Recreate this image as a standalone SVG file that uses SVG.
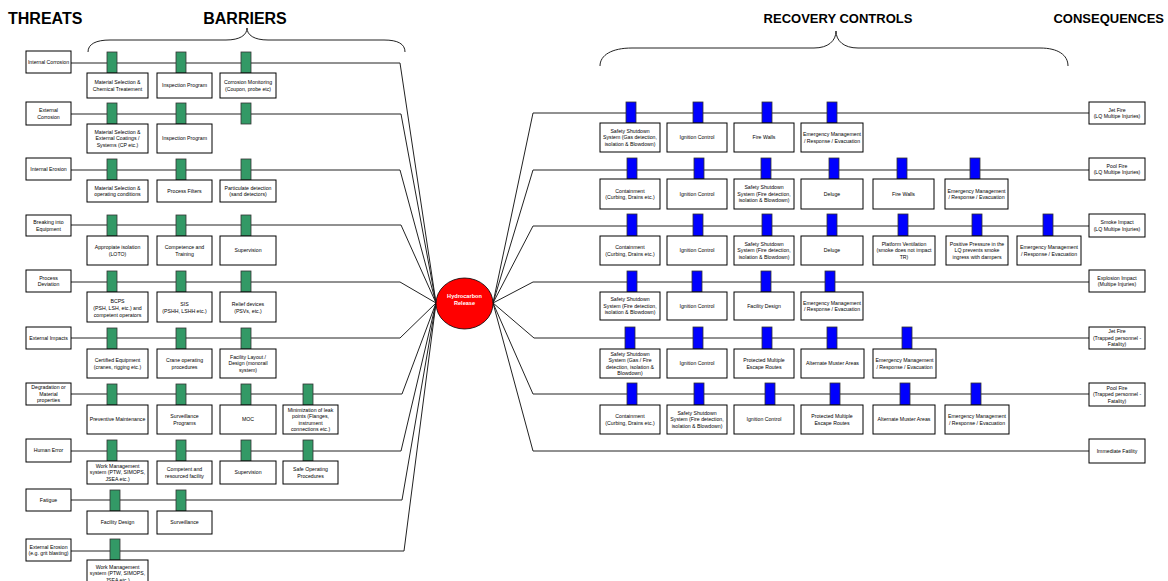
<svg xmlns="http://www.w3.org/2000/svg" width="1168" height="581" viewBox="0 0 1168 581">
<style>
.bx{fill:#fff;stroke:#000;stroke-width:1}
.g{fill:#339966;stroke:#333;stroke-width:0.8}
.b{fill:#0000ff;stroke:#333;stroke-width:0.8}
.ln{fill:none;stroke:#222;stroke-width:1}
.br{fill:none;stroke:#222;stroke-width:1}
text{font-family:"Liberation Sans",Arial,sans-serif}
.t{font-size:5.2px;text-anchor:middle;fill:#000}
.h{font-size:16px;font-weight:bold;fill:#000}
.h2{font-size:13px;font-weight:bold;fill:#000}
.w{font-size:5.6px;font-weight:bold;text-anchor:middle;fill:#fff}
</style>
<rect width="1168" height="581" fill="#fff"/>
<g id="headers">
<text class="h" x="8" y="24">THREATS</text>
<text class="h" x="245" y="24" text-anchor="middle">BARRIERS</text>
<text class="h2" x="838" y="23" text-anchor="middle">RECOVERY CONTROLS</text>
<text class="h2" x="1164" y="23" text-anchor="end">CONSEQUENCES</text>
<path class="br" d="M88,52 C88,44 96,40 110,40 L226,40 C240,40 247,35 247,28 C247,35 254,40 268,40 L384,40 C398,40 405,44 405,52"/>
<path class="br" d="M600,66 C600,55 612,48 632,48 L814,48 C828,48 836,41 836,31 C836,41 844,48 858,48 L1040,48 C1058,48 1068,55 1068,66"/>
</g>
<g id="connectors">
<polyline class="ln" points="71,63 400,63 436,303"/>
<polyline class="ln" points="71,114 401,114 436,303"/>
<polyline class="ln" points="71,170 400,170 436,303"/>
<polyline class="ln" points="71,225 401,225 436,303"/>
<polyline class="ln" points="71,282 400,282 436,303"/>
<polyline class="ln" points="71,338 400,338 436,303"/>
<polyline class="ln" points="71,394 402,394 436,303"/>
<polyline class="ln" points="71,451 401,451 436,303"/>
<polyline class="ln" points="71,500 402,500 436,303"/>
<polyline class="ln" points="71,551 404,551 436,303"/>
<polyline class="ln" points="493,303 533,113 1089,113"/>
<polyline class="ln" points="493,303 533,170 1089,170"/>
<polyline class="ln" points="493,303 533,226 1089,226"/>
<polyline class="ln" points="493,303 533,282 1089,282"/>
<polyline class="ln" points="493,303 534,338 1089,338"/>
<polyline class="ln" points="493,303 533,394 1089,394"/>
<polyline class="ln" points="493,303 533,451 1089,451"/>
</g>
<g id="top-event">
<ellipse cx="464.5" cy="303.5" rx="28.5" ry="25.5" fill="#ff0000" stroke="#000" stroke-width="0.8"/>
<text class="w" x="464.5" y="298">Hydrocarbon</text>
<text class="w" x="464.5" y="305">Release</text>
</g>
<!-- Threat 1 -->
<g id="threat-1"><rect class="bx" x="26" y="51" width="45" height="22"/><text class="t" x="48.5" y="63.8">Internal Corrosion</text></g>
<g id="barrier-1-1"><rect class="g" x="107" y="52" width="10" height="21"/><rect class="bx" x="87" y="73" width="61" height="25"/><text class="t" x="117.5" y="84.05">Material Selection &amp;</text><text class="t" x="117.5" y="90.55">Chemical Treatement</text></g>
<g id="barrier-1-2"><rect class="g" x="176" y="52" width="10" height="21"/><rect class="bx" x="157" y="73" width="55" height="25"/><text class="t" x="184.5" y="87.3">Inspection Program</text></g>
<g id="barrier-1-3"><rect class="g" x="241" y="52" width="10" height="21"/><rect class="bx" x="220" y="73" width="56" height="25"/><text class="t" x="248" y="84.05">Corrosion Monitoring</text><text class="t" x="248" y="90.55">(Coupon, probe etc)</text></g>
<!-- Threat 2 -->
<g id="threat-2"><rect class="bx" x="26" y="102" width="45" height="23"/><text class="t" x="48.5" y="112.05">External</text><text class="t" x="48.5" y="118.55">Corrosion</text></g>
<g id="barrier-2-1"><rect class="g" x="107" y="103" width="10" height="21"/><rect class="bx" x="87" y="124" width="61" height="29"/><text class="t" x="117.5" y="133.8">Material Selection &amp;</text><text class="t" x="117.5" y="140.3">External Coatings /</text><text class="t" x="117.5" y="146.8">Systems (CP etc.)</text></g>
<g id="barrier-2-2"><rect class="g" x="176" y="103" width="10" height="21"/><rect class="bx" x="157" y="124" width="55" height="29"/><text class="t" x="184.5" y="140.3">Inspection Program</text></g>
<g id="barrier-2-3"><rect class="g" x="241" y="103" width="10" height="21"/></g>
<!-- Threat 3 -->
<g id="threat-3"><rect class="bx" x="26" y="158" width="45" height="22"/><text class="t" x="48.5" y="170.8">Internal Erosion</text></g>
<g id="barrier-3-1"><rect class="g" x="107" y="159" width="10" height="21"/><rect class="bx" x="87" y="180" width="61" height="22"/><text class="t" x="117.5" y="189.55">Material Selection &amp;</text><text class="t" x="117.5" y="196.05">operating conditions</text></g>
<g id="barrier-3-2"><rect class="g" x="176" y="159" width="10" height="21"/><rect class="bx" x="157" y="180" width="55" height="22"/><text class="t" x="184.5" y="192.8">Process Filters</text></g>
<g id="barrier-3-3"><rect class="g" x="241" y="159" width="10" height="21"/><rect class="bx" x="220" y="180" width="56" height="22"/><text class="t" x="248" y="189.55">Particulate detection</text><text class="t" x="248" y="196.05">(sand detectors)</text></g>
<!-- Threat 4 -->
<g id="threat-4"><rect class="bx" x="26" y="215" width="45" height="21"/><text class="t" x="48.5" y="224.05">Breaking into</text><text class="t" x="48.5" y="230.55">Equipment</text></g>
<g id="barrier-4-1"><rect class="g" x="107" y="215" width="10" height="21"/><rect class="bx" x="87" y="236" width="61" height="29"/><text class="t" x="117.5" y="249.05">Appropiate isolation</text><text class="t" x="117.5" y="255.55">(LOTO)</text></g>
<g id="barrier-4-2"><rect class="g" x="176" y="215" width="10" height="21"/><rect class="bx" x="157" y="236" width="55" height="29"/><text class="t" x="184.5" y="249.05">Competence and</text><text class="t" x="184.5" y="255.55">Training</text></g>
<g id="barrier-4-3"><rect class="g" x="241" y="215" width="10" height="21"/><rect class="bx" x="220" y="236" width="56" height="29"/><text class="t" x="248" y="252.3">Supervision</text></g>
<!-- Threat 5 -->
<g id="threat-5"><rect class="bx" x="26" y="270" width="45" height="22"/><text class="t" x="48.5" y="279.55">Process</text><text class="t" x="48.5" y="286.05">Deviation</text></g>
<g id="barrier-5-1"><rect class="g" x="107" y="271" width="10" height="21"/><rect class="bx" x="87" y="292" width="61" height="30"/><text class="t" x="117.5" y="302.5">BCPS</text><text class="t" x="117.5" y="309.5">(PSH, LSH, etc.) and</text><text class="t" x="117.5" y="316.5">competent operators</text></g>
<g id="barrier-5-2"><rect class="g" x="176" y="271" width="10" height="21"/><rect class="bx" x="157" y="292" width="55" height="30"/><text class="t" x="184.5" y="305.8">SIS</text><text class="t" x="184.5" y="312.5">(PSHH, LSHH etc.)</text></g>
<g id="barrier-5-3"><rect class="g" x="241" y="271" width="10" height="21"/><rect class="bx" x="220" y="292" width="56" height="30"/><text class="t" x="248" y="305.8">Relief devices</text><text class="t" x="248" y="312.5">(PSVs, etc.)</text></g>
<!-- Threat 6 -->
<g id="threat-6"><rect class="bx" x="26" y="327" width="45" height="22"/><text class="t" x="48.5" y="339.8">External Impacts</text></g>
<g id="barrier-6-1"><rect class="g" x="107" y="328" width="10" height="21"/><rect class="bx" x="87" y="349" width="61" height="29"/><text class="t" x="117.5" y="362.05">Certified Equipment</text><text class="t" x="117.5" y="368.55">(cranes, rigging etc.)</text></g>
<g id="barrier-6-2"><rect class="g" x="176" y="328" width="10" height="21"/><rect class="bx" x="157" y="349" width="55" height="29"/><text class="t" x="184.5" y="362.05">Crane operating</text><text class="t" x="184.5" y="368.55">procedures</text></g>
<g id="barrier-6-3"><rect class="g" x="241" y="328" width="10" height="21"/><rect class="bx" x="220" y="349" width="56" height="29"/><text class="t" x="248" y="358.8">Facility Layout /</text><text class="t" x="248" y="365.3">Design (monorail</text><text class="t" x="248" y="371.8">system)</text></g>
<!-- Threat 7 -->
<g id="threat-7"><rect class="bx" x="26" y="383" width="45" height="22"/><text class="t" x="48.5" y="389.3">Degradation or</text><text class="t" x="48.5" y="395.8">Material</text><text class="t" x="48.5" y="402.3">properties</text></g>
<g id="barrier-7-1"><rect class="g" x="107" y="384" width="10" height="21"/><rect class="bx" x="87" y="405" width="61" height="29"/><text class="t" x="117.5" y="421.3">Preventive Maintenance</text></g>
<g id="barrier-7-2"><rect class="g" x="176" y="384" width="10" height="21"/><rect class="bx" x="157" y="405" width="55" height="29"/><text class="t" x="184.5" y="418.05">Surveillance</text><text class="t" x="184.5" y="424.55">Programs</text></g>
<g id="barrier-7-3"><rect class="g" x="241" y="384" width="10" height="21"/><rect class="bx" x="220" y="405" width="56" height="29"/><text class="t" x="248" y="421.3">MOC</text></g>
<g id="barrier-7-4"><rect class="g" x="303" y="384" width="10" height="21"/><rect class="bx" x="283" y="405" width="55" height="29"/><text class="t" x="310.5" y="411.55">Minimization of leak</text><text class="t" x="310.5" y="418.05">points (Flanges,</text><text class="t" x="310.5" y="424.55">instrument</text><text class="t" x="310.5" y="431.05">connections etc.)</text></g>
<!-- Threat 8 -->
<g id="threat-8"><rect class="bx" x="26" y="439" width="45" height="23"/><text class="t" x="48.5" y="452.3">Human Error</text></g>
<g id="barrier-8-1"><rect class="g" x="107" y="440" width="10" height="21"/><rect class="bx" x="87" y="461" width="61" height="23"/><text class="t" x="117.5" y="467.8">Work Management</text><text class="t" x="117.5" y="474.3">system (PTW, SIMOPS,</text><text class="t" x="117.5" y="480.8">JSEA etc.)</text></g>
<g id="barrier-8-2"><rect class="g" x="176" y="440" width="10" height="21"/><rect class="bx" x="157" y="461" width="55" height="23"/><text class="t" x="184.5" y="471.05">Competent and</text><text class="t" x="184.5" y="477.55">resourced facility</text></g>
<g id="barrier-8-3"><rect class="g" x="241" y="440" width="10" height="21"/><rect class="bx" x="220" y="461" width="56" height="23"/><text class="t" x="248" y="474.3">Supervision</text></g>
<g id="barrier-8-4"><rect class="g" x="303" y="440" width="10" height="21"/><rect class="bx" x="283" y="461" width="55" height="23"/><text class="t" x="310.5" y="471.05">Safe Operating</text><text class="t" x="310.5" y="477.55">Procedures</text></g>
<!-- Threat 9 -->
<g id="threat-9"><rect class="bx" x="26" y="489" width="45" height="22"/><text class="t" x="48.5" y="501.8">Fatigue</text></g>
<g id="barrier-9-1"><rect class="g" x="110" y="490" width="10" height="21"/><rect class="bx" x="87" y="511" width="61" height="23"/><text class="t" x="117.5" y="524.3">Facility Design</text></g>
<g id="barrier-9-2"><rect class="g" x="176" y="490" width="10" height="21"/><rect class="bx" x="157" y="511" width="55" height="23"/><text class="t" x="184.5" y="524.3">Surveillance</text></g>
<!-- Threat 10 -->
<g id="threat-10"><rect class="bx" x="26" y="539" width="45" height="22"/><text class="t" x="48.5" y="548.55">External Erosion</text><text class="t" x="48.5" y="555.05">(e.g. grit blasting)</text></g>
<g id="barrier-10-1"><rect class="g" x="110" y="539" width="10" height="21"/><rect class="bx" x="87" y="560" width="61" height="26"/><text class="t" x="117.5" y="568.5">Work Management</text><text class="t" x="117.5" y="575">system (PTW, SIMOPS,</text><text class="t" x="117.5" y="581.5">JSEA etc.)</text></g>
<!-- Consequence 1 -->
<g id="consequence-1"><rect class="bx" x="1089" y="102" width="56" height="22"/><text class="t" x="1117" y="111.55">Jet Fire</text><text class="t" x="1117" y="118.05">(LQ Multipe Injuries)</text></g>
<g id="recovery-1-1"><rect class="b" x="626" y="102" width="10" height="21"/><rect class="bx" x="600" y="123" width="60" height="29"/><text class="t" x="630" y="132.8">Safety Shutdown</text><text class="t" x="630" y="139.3">System (Gas detection,</text><text class="t" x="630" y="145.8">isolation &amp; Blowdown)</text></g>
<g id="recovery-1-2"><rect class="b" x="693" y="102" width="10" height="21"/><rect class="bx" x="667" y="123" width="60" height="29"/><text class="t" x="697" y="139.3">Ignition Control</text></g>
<g id="recovery-1-3"><rect class="b" x="762" y="102" width="10" height="21"/><rect class="bx" x="734" y="123" width="60" height="29"/><text class="t" x="764" y="139.3">Fire Walls</text></g>
<g id="recovery-1-4"><rect class="b" x="827" y="102" width="10" height="21"/><rect class="bx" x="801" y="123" width="62" height="29"/><text class="t" x="832" y="136.05">Emergency Management</text><text class="t" x="832" y="142.55">/ Response / Evacuation</text></g>
<!-- Consequence 2 -->
<g id="consequence-2"><rect class="bx" x="1089" y="158" width="56" height="22"/><text class="t" x="1117" y="167.55">Pool Fire</text><text class="t" x="1117" y="174.05">(LQ Multipe Injuries)</text></g>
<g id="recovery-2-1"><rect class="b" x="627" y="158" width="10" height="21"/><rect class="bx" x="600" y="179" width="60" height="30"/><text class="t" x="630" y="192.55">Containment</text><text class="t" x="630" y="199.05">(Curbing, Drains etc.)</text></g>
<g id="recovery-2-2"><rect class="b" x="694" y="158" width="10" height="21"/><rect class="bx" x="667" y="179" width="60" height="30"/><text class="t" x="697" y="195.8">Ignition Control</text></g>
<g id="recovery-2-3"><rect class="b" x="761" y="158" width="10" height="21"/><rect class="bx" x="734" y="179" width="60" height="30"/><text class="t" x="764" y="189.3">Safety Shutdown</text><text class="t" x="764" y="195.8">System (Fire detection,</text><text class="t" x="764" y="202.3">isolation &amp; Blowdown)</text></g>
<g id="recovery-2-4"><rect class="b" x="829" y="158" width="10" height="21"/><rect class="bx" x="801" y="179" width="62" height="30"/><text class="t" x="832" y="195.8">Deluge</text></g>
<g id="recovery-2-5"><rect class="b" x="897" y="158" width="10" height="21"/><rect class="bx" x="873" y="179" width="61" height="30"/><text class="t" x="903.5" y="195.8">Fire Walls</text></g>
<g id="recovery-2-6"><rect class="b" x="970" y="158" width="10" height="21"/><rect class="bx" x="945" y="179" width="63" height="30"/><text class="t" x="976.5" y="192.55">Emergency Management</text><text class="t" x="976.5" y="199.05">/ Response / Evacuation</text></g>
<!-- Consequence 3 -->
<g id="consequence-3"><rect class="bx" x="1089" y="214" width="56" height="23"/><text class="t" x="1117" y="224.05">Smoke Impact</text><text class="t" x="1117" y="230.55">(LQ Multipe Injuries)</text></g>
<g id="recovery-3-1"><rect class="b" x="627" y="214" width="10" height="22"/><rect class="bx" x="600" y="236" width="60" height="29"/><text class="t" x="630" y="249.05">Containment</text><text class="t" x="630" y="255.55">(Curbing, Drains etc.)</text></g>
<g id="recovery-3-2"><rect class="b" x="693" y="214" width="10" height="22"/><rect class="bx" x="667" y="236" width="60" height="29"/><text class="t" x="697" y="252.3">Ignition Control</text></g>
<g id="recovery-3-3"><rect class="b" x="762" y="214" width="10" height="22"/><rect class="bx" x="734" y="236" width="60" height="29"/><text class="t" x="764" y="245.8">Safety Shutdown</text><text class="t" x="764" y="252.3">System (Fire detection,</text><text class="t" x="764" y="258.8">isolation &amp; Blowdown)</text></g>
<g id="recovery-3-4"><rect class="b" x="827" y="214" width="10" height="22"/><rect class="bx" x="801" y="236" width="62" height="29"/><text class="t" x="832" y="252.3">Deluge</text></g>
<g id="recovery-3-5"><rect class="b" x="898" y="214" width="10" height="22"/><rect class="bx" x="873" y="236" width="62" height="29"/><text class="t" x="904" y="245.8">Platform Ventilation</text><text class="t" x="904" y="252.3">(smoke does not impact</text><text class="t" x="904" y="258.8">TR)</text></g>
<g id="recovery-3-6"><rect class="b" x="972" y="214" width="10" height="22"/><rect class="bx" x="946" y="236" width="62" height="29"/><text class="t" x="977" y="245.8">Positive Pressure in the</text><text class="t" x="977" y="252.3">LQ prevents smoke</text><text class="t" x="977" y="258.8">ingress with dampers</text></g>
<g id="recovery-3-7"><rect class="b" x="1043" y="214" width="10" height="22"/><rect class="bx" x="1017" y="236" width="64" height="29"/><text class="t" x="1049" y="249.05">Emergency Management</text><text class="t" x="1049" y="255.55">/ Response / Evacuation</text></g>
<!-- Consequence 4 -->
<g id="consequence-4"><rect class="bx" x="1089" y="270" width="56" height="22"/><text class="t" x="1117" y="279.55">Explosion Impact</text><text class="t" x="1117" y="286.05">(Multipe Injuries)</text></g>
<g id="recovery-4-1"><rect class="b" x="627" y="271" width="10" height="21"/><rect class="bx" x="600" y="292" width="60" height="28"/><text class="t" x="630" y="301.3">Safety Shutdown</text><text class="t" x="630" y="307.8">System (Fire detection,</text><text class="t" x="630" y="314.3">isolation &amp; Blowdown)</text></g>
<g id="recovery-4-2"><rect class="b" x="692" y="271" width="10" height="21"/><rect class="bx" x="667" y="292" width="60" height="28"/><text class="t" x="697" y="307.8">Ignition Control</text></g>
<g id="recovery-4-3"><rect class="b" x="761" y="271" width="10" height="21"/><rect class="bx" x="734" y="292" width="60" height="28"/><text class="t" x="764" y="307.8">Facility Design</text></g>
<g id="recovery-4-4"><rect class="b" x="825" y="271" width="10" height="21"/><rect class="bx" x="801" y="292" width="62" height="28"/><text class="t" x="832" y="304.55">Emergency Management</text><text class="t" x="832" y="311.05">/ Response / Evacuation</text></g>
<!-- Consequence 5 -->
<g id="consequence-5"><rect class="bx" x="1089" y="327" width="56" height="22"/><text class="t" x="1117" y="333.3">Jet Fire</text><text class="t" x="1117" y="339.8">(Trapped personnel -</text><text class="t" x="1117" y="346.3">Fatality)</text></g>
<g id="recovery-5-1"><rect class="b" x="625" y="327" width="10" height="22"/><rect class="bx" x="600" y="349" width="60" height="29"/><text class="t" x="630" y="355.55">Safety Shutdown</text><text class="t" x="630" y="362.05">System (Gas / Fire</text><text class="t" x="630" y="368.55">detection, isolation &amp;</text><text class="t" x="630" y="375.05">Blowdown)</text></g>
<g id="recovery-5-2"><rect class="b" x="693" y="327" width="10" height="22"/><rect class="bx" x="667" y="349" width="60" height="29"/><text class="t" x="697" y="365.3">Ignition Control</text></g>
<g id="recovery-5-3"><rect class="b" x="762" y="327" width="10" height="22"/><rect class="bx" x="734" y="349" width="60" height="29"/><text class="t" x="764" y="362.05">Protected Multiple</text><text class="t" x="764" y="368.55">Escape Routes</text></g>
<g id="recovery-5-4"><rect class="b" x="827" y="327" width="10" height="22"/><rect class="bx" x="801" y="349" width="63" height="29"/><text class="t" x="832.5" y="365.3">Alternate Muster Areas</text></g>
<g id="recovery-5-5"><rect class="b" x="902" y="327" width="10" height="22"/><rect class="bx" x="873" y="349" width="63" height="29"/><text class="t" x="904.5" y="362.05">Emergency Management</text><text class="t" x="904.5" y="368.55">/ Response / Evacuation</text></g>
<!-- Consequence 6 -->
<g id="consequence-6"><rect class="bx" x="1089" y="383" width="56" height="23"/><text class="t" x="1117" y="389.8">Pool Fire</text><text class="t" x="1117" y="396.3">(Trapped personnel -</text><text class="t" x="1117" y="402.8">Fatality)</text></g>
<g id="recovery-6-1"><rect class="b" x="627" y="383" width="10" height="22"/><rect class="bx" x="600" y="405" width="60" height="29"/><text class="t" x="630" y="418.05">Containment</text><text class="t" x="630" y="424.55">(Curbing, Drains etc.)</text></g>
<g id="recovery-6-2"><rect class="b" x="694" y="383" width="10" height="22"/><rect class="bx" x="667" y="405" width="60" height="29"/><text class="t" x="697" y="414.8">Safety Shutdown</text><text class="t" x="697" y="421.3">System (Fire detection,</text><text class="t" x="697" y="427.8">isolation &amp; Blowdown)</text></g>
<g id="recovery-6-3"><rect class="b" x="765" y="383" width="10" height="22"/><rect class="bx" x="734" y="405" width="60" height="29"/><text class="t" x="764" y="421.3">Ignition Control</text></g>
<g id="recovery-6-4"><rect class="b" x="830" y="383" width="10" height="22"/><rect class="bx" x="801" y="405" width="62" height="29"/><text class="t" x="832" y="418.05">Protected Multiple</text><text class="t" x="832" y="424.55">Escape Routes</text></g>
<g id="recovery-6-5"><rect class="b" x="900" y="383" width="10" height="22"/><rect class="bx" x="873" y="405" width="62" height="29"/><text class="t" x="904" y="421.3">Alternate Muster Areas</text></g>
<g id="recovery-6-6"><rect class="b" x="971" y="383" width="10" height="22"/><rect class="bx" x="945" y="405" width="64" height="29"/><text class="t" x="977" y="418.05">Emergency Management</text><text class="t" x="977" y="424.55">/ Response / Evacuation</text></g>
<!-- Consequence 7 -->
<g id="consequence-7"><rect class="bx" x="1089" y="439" width="56" height="24"/><text class="t" x="1117" y="452.8">Immediate Fatility</text></g>
</svg>
